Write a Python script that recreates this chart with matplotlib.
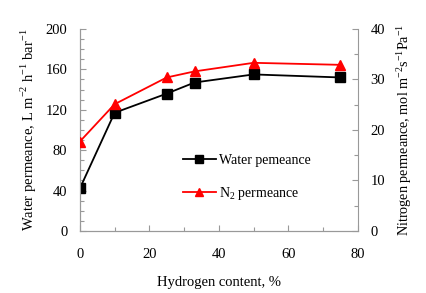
import matplotlib
matplotlib.use("Agg")
from matplotlib import pyplot as plt
from matplotlib.ticker import MultipleLocator

# Data
hydrogen = [0, 10, 25, 33, 50, 75]
water = [42, 117, 136, 147, 155, 152]
nitrogen = [17.7, 25.1, 30.4, 31.6, 33.3, 32.9]

plt.rcParams['font.family'] = ['Liberation Serif', 'DejaVu Serif']
plt.rcParams['mathtext.fontset'] = 'custom'
plt.rcParams['mathtext.rm'] = 'Liberation Serif'
plt.rcParams['font.size'] = 10.5

fig = plt.figure(figsize=(4.27, 2.93), dpi=100)
ax = fig.add_axes([0.187, 0.212, 0.651, 0.689])
ax2 = ax.twinx()

l1, = ax.plot(hydrogen, water, color='black', marker='s', markersize=7, linewidth=1.3,
              label='Water pemeance', zorder=3)
l2, = ax2.plot(hydrogen, nitrogen, color='red', marker='^', markersize=7.5, linewidth=1.3,
               label='N$_2$ permeance', zorder=3)

ax.set_xlim(0, 80)
ax.set_ylim(0, 200)
ax2.set_ylim(0, 40)
ax.xaxis.set_major_locator(MultipleLocator(20))
ax.xaxis.set_minor_locator(MultipleLocator(10))
ax.yaxis.set_major_locator(MultipleLocator(40))
ax.yaxis.set_minor_locator(MultipleLocator(10))
ax2.yaxis.set_major_locator(MultipleLocator(10))
ax2.yaxis.set_minor_locator(MultipleLocator(5))

for a in (ax, ax2):
    a.spines['top'].set_visible(False)
    for s in a.spines.values():
        s.set_color('#999999')
        s.set_linewidth(0.8)
    a.tick_params(which='both', direction='in', color='#999999', width=0.8)
    a.tick_params(which='major', length=4)
    a.tick_params(which='minor', length=3)
ax.tick_params(axis='x', which='both', pad=12)
ax.tick_params(axis='y', which='both', pad=9)
ax2.tick_params(axis='y', which='both', pad=9)
ax.spines['right'].set_visible(False)

ax.set_xlabel('Hydrogen content, %', labelpad=11)
ax.set_ylabel('Water permeance, L m$^{-2}$ h$^{-1}$ bar$^{-1}$', labelpad=5)
ax2.set_ylabel('Nitrogen permeance, mol m$^{-2}$s$^{-1}$Pa$^{-1}$', labelpad=7,
               fontsize=10.2)

ax.legend(handles=[l1, l2], loc='upper left', bbox_to_anchor=(0.325, 0.445),
          frameon=False, handlelength=2.4, handletextpad=0.2, labelspacing=1.35,
          markerscale=0.8, fontsize=10)

fig.savefig('out.png', dpi=100)
